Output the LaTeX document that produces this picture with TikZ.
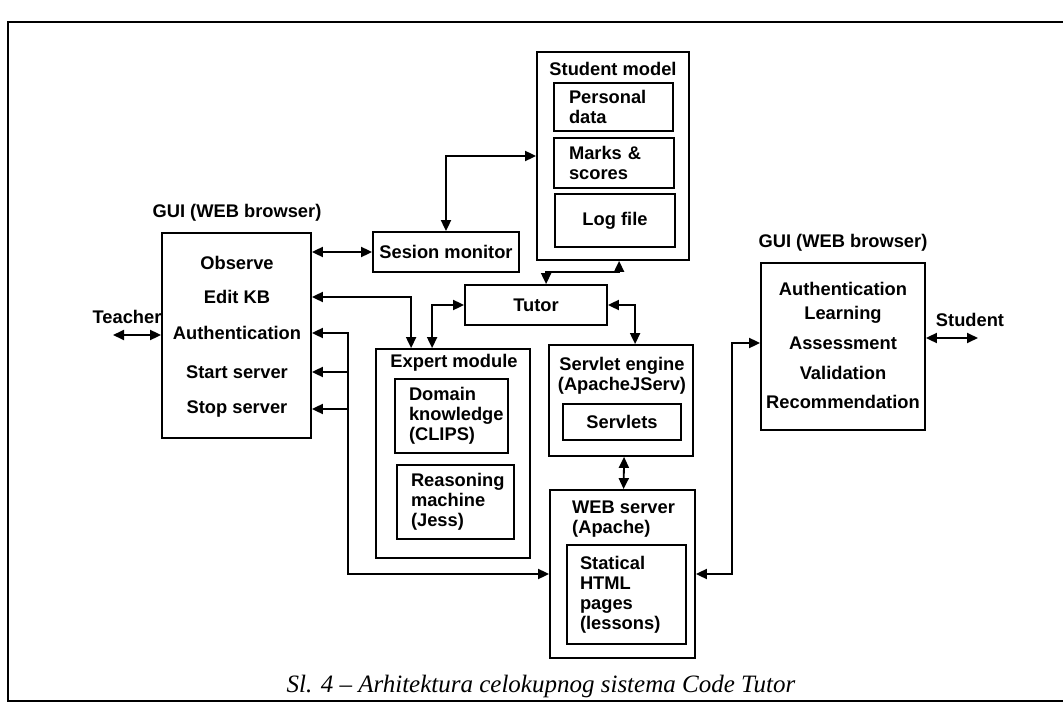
\documentclass[tikz,border=0pt]{standalone}
\usepackage{fontspec}
\setmainfont{Liberation Sans}
\newfontfamily\capfont{Liberation Serif}
\usetikzlibrary{arrows.meta,calc}

\begin{document}
\begin{tikzpicture}[x=1pt,y=-1pt,
  every node/.style={font=\bfseries\fontsize{18.3}{20}\selectfont, inner sep=0pt},
  box/.style={draw, line width=1.8pt},
  lbl/.style={align=center},
  conn/.style={line width=1.8pt, {Triangle[length=11pt,width=10pt]}-{Triangle[length=11pt,width=10pt]}},
  arr/.style={line width=1.8pt, -{Triangle[length=11pt,width=10pt]}},
  frame/.style={line width=1.4pt}
]
\useasboundingbox (0,0) rectangle (1063,706);

% page frame
\draw[frame] (1063,22) -- (8,22) -- (8,701) -- (1063,701);

% teacher side GUI
\node[lbl] (glt) at (237,213) {GUI (WEB browser)};
\node[box, minimum width=149pt, minimum height=205pt] (gl) at (236.5,335.5) {};
\node (ob) at (237,263) {Observe};
\node (ek) at (237,297) {Edit KB};
\node (au) at (237,333) {Authentication};
\node (ss) at (237,372) {Start server};
\node (st) at (237,409) {Stop server};

% session monitor and tutor
\node[box, minimum width=146pt, minimum height=40pt] (sm) at (446,252) {Sesion monitor};
\node[box, minimum width=142pt, minimum height=40pt] (tu) at (536,305) {Tutor};

% student model
\node[box, minimum width=152pt, minimum height=208pt] (stm) at (613,156) {};
\node (stmt) at (613,69) {Student model};
\node[box, minimum height=48pt, inner xsep=15pt, text width=89pt, align=left] (pd) at (613.5,107) {Personal\\data};
\node[box, minimum height=50pt, inner xsep=15pt, text width=90pt, align=left] (ms) at (614,163) {Marks \&\\scores};
\node[box, minimum width=120pt, minimum height=53pt] (lf) at (615,220.5) {Log file};

% expert module
\node[box, minimum width=154pt, minimum height=209pt] (em) at (453,453.5) {};
\node (emt) at (454,363) {Expert module};
\node[box, minimum height=74pt, inner xsep=14pt, text width=85pt, align=left] (dk) at (451.5,416) {Domain\\knowledge\\(CLIPS)};
\node[box, minimum height=74pt, inner xsep=14pt, text width=89pt, align=left] (rm) at (455.5,502) {Reasoning\\machine\\(Jess)};

% servlet engine
\node[box, minimum width=144pt, minimum height=111pt] (se) at (621,400.5) {};
\node[lbl] (set) at (622,376) {Servlet engine\\(ApacheJServ)};
\node[box, minimum width=118pt, minimum height=36pt] (sv) at (622,422) {Servlets};

% web server
\node[box, minimum width=145pt, minimum height=168pt] (ws) at (622.5,574) {};
\node[anchor=west, align=left] (wst) at (572,519) {WEB server\\(Apache)};
\node[box, minimum height=99pt, inner xsep=13pt, text width=93pt, align=left] (sh) at (626.5,594.5) {Statical\\HTML\\pages\\(lessons)};

% student side GUI
\node[lbl] (grt) at (843,243) {GUI (WEB browser)};
\node[box, minimum width=164pt, minimum height=167pt] (gr) at (843,346.5) {};
\node (ra) at (843,289) {Authentication};
\node (rl) at (843,315) {Learning};
\node (rs) at (843,343) {Assessment};
\node (rv) at (843,373) {Validation};
\node (rr) at (843,402) {Recommendation};

% users
\node (teacher) at (127,317) {Teacher};
\coordinate (tend) at (113,335);
\node (student) at (970,320) {Student};
\coordinate (send) at (978,338);

% connectors
\draw[conn] (tend) -- (gl.west |- tend);
\draw[conn] (gr.east |- send) -- (send);
\draw[conn] (gl.east |- sm.west) -- (sm.west);
\draw[conn] (sm.north) |- (stm.west);
\draw[conn] (gl.east |- ek) -| ([xshift=36pt]em.north west);
\draw[conn] (tu.west) -| ([xshift=57pt]em.north west);
\draw[conn] ([xshift=82pt]tu.north west) -- ++(0,-12) -| ([xshift=83pt]stm.south west);
\draw[conn] (tu.east) -| ([xshift=87pt]se.north west);
\draw[conn] ([xshift=76pt]se.south west) -- ([xshift=74.5pt]ws.north west);

% control bus from the teacher GUI to the web server
\coordinate (bus) at ([xshift=36pt]gl.east);
\draw[conn] (gl.east |- au) -- (bus |- au) |- (ws.west);
\draw[arr] (bus |- ss) -- (gl.east |- ss);
\draw[arr] (bus |- st) -- (gl.east |- st);

% web server to student GUI
\draw[conn] (ws.east) -- ++(36,0) |- (gr.west |- rs);

% caption
\node[font=\capfont\itshape\fontsize{25}{28}\selectfont, anchor=base] (cap) at (541,692) {Sl. 4 – Arhitektura celokupnog sistema Code Tutor};
\end{tikzpicture}
\end{document}
